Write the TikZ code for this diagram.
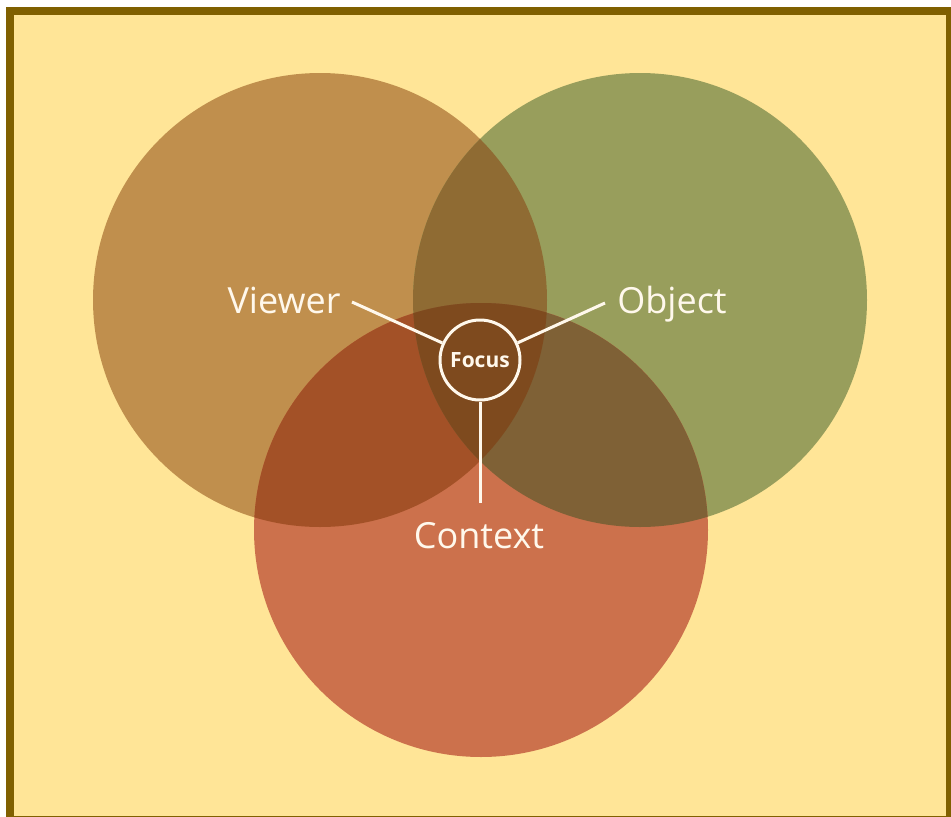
\documentclass[tikz,border=0pt]{standalone}
\usepackage{fontspec}
\setmainfont{Open Sans}
\usepackage{tikz}

\definecolor{framebrown}{HTML}{806000}
\definecolor{paper}{HTML}{FFE597}
\definecolor{viewerfill}{HTML}{C08F4D}
\definecolor{objectfill}{HTML}{989E5C}
\definecolor{contextfill}{HTML}{CC714C}
\definecolor{vofill}{HTML}{8F6B33}
\definecolor{vcfill}{HTML}{A35127}
\definecolor{ocfill}{HTML}{7F6136}
\definecolor{focusfill}{HTML}{7E4A1E}
\definecolor{cream}{HTML}{FFF8EC}

\begin{document}
\begin{tikzpicture}[x=1pt, y=-1pt,
		setname/.style={text=cream, inner sep=0pt, anchor=base, font=\fontsize{36}{42}\selectfont},
		spoke/.style={cream, line width=3pt}]
			\useasboundingbox (0,0) rectangle (951,817);
			\clip (0,0) rectangle (951,817);

			% frame
			\draw[framebrown, line width=8pt, fill=paper] (10,11) rectangle (950,819.5);

			\def\R{227pt}
			\coordinate (V) at (320,300);
			\coordinate (O) at (640,300);
			\coordinate (C) at (481,530);

			% the three sets
			\fill[viewerfill] (V) circle (\R);
			\fill[objectfill] (O) circle (\R);
			\fill[contextfill] (C) circle (\R);

			% pairwise overlaps
			\begin{scope}
				\clip (V) circle (\R);
				\fill[vofill] (O) circle (\R);
				\fill[vcfill] (C) circle (\R);
			\end{scope}
			\begin{scope}
				\clip (O) circle (\R);
				\fill[ocfill] (C) circle (\R);
			\end{scope}
			\begin{scope}
				\clip (V) circle (\R);
				\clip (O) circle (\R);
				\fill[focusfill] (C) circle (\R);
			\end{scope}

			\node (focus) [circle, draw=cream, line width=3pt, minimum size=80pt, inner sep=0pt, text=cream, font=\bfseries\fontsize{21}{24}\selectfont] at (480,360) {Focus};

			\node (viewer) [setname] at (284,313) {Viewer};
			\node (object) [setname] at (672,313) {Object};
			\node (context) [setname] at (479,548) {Context};

			\coordinate (vtip) at (352,302);
			\coordinate (otip) at (605,303);
			\coordinate (ctip) at (480,503);

			\draw[spoke] (vtip) -- (focus);
			\draw[spoke] (otip) -- (focus);
			\draw[spoke] (ctip) -- (focus);
		\end{tikzpicture}
\end{document}
